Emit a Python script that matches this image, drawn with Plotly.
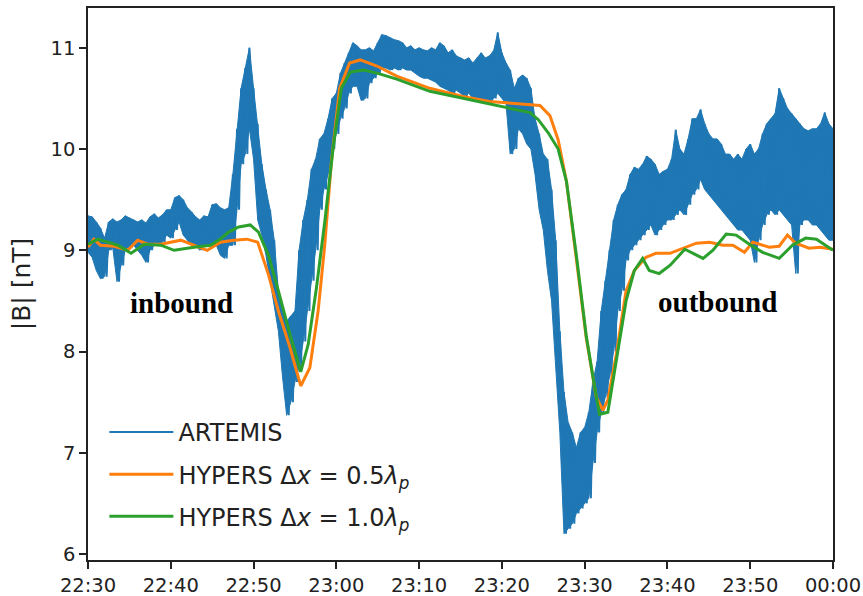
import plotly.graph_objects as go

# ---------------- data (minutes after 22:30) ----------------
TICK_MIN = [0, 10, 20, 30, 40, 50, 60, 70, 80, 90]
TICK_TEXT = ["22:30", "22:40", "22:50", "23:00", "23:10", "23:20", "23:30", "23:40", "23:50", "00:00"]

# ARTEMIS |B| : upper / lower envelope of the noisy signal, every 0.5 min
ART_T = [i * 0.5 for i in range(181)]
ART_HI = [
    9.34, 9.33, 9.28, 9.22, 9.12, 9.28, 9.31, 9.28, 9.30, 9.34,   # 0 - 4.5
    9.32, 9.30, 9.28, 9.30, 9.27, 9.33, 9.36, 9.32, 9.35, 9.40,   # 5 - 9.5
    9.40, 9.52, 9.54, 9.50, 9.42, 9.38, 9.33, 9.30, 9.34, 9.33,   # 10 - 14.5
    9.45, 9.46, 9.42, 9.40, 9.42, 9.75, 10.20, 10.60, 10.80, 11.00,  # 15 - 19.5
    10.60, 10.25, 9.85, 9.60, 9.40, 9.10, 8.60, 8.45, 8.30, 8.35,  # 20 - 24.5
    8.40, 9.00, 9.30, 9.50, 9.80, 9.90, 10.10, 10.15, 10.30, 10.50,  # 25 - 29.5
    10.55, 10.75, 10.85, 10.95, 11.05, 11.02, 10.98, 10.98, 11.00, 10.97,  # 30 - 34.5
    11.05, 11.13, 11.12, 11.10, 11.08, 11.07, 11.05, 11.00, 11.02, 10.98,  # 35 - 39.5
    11.00, 10.98, 10.97, 11.00, 10.98, 11.05, 11.02, 10.95, 10.98, 10.92,  # 40 - 44.5
    10.90, 10.88, 10.90, 10.85, 10.90, 10.95, 10.90, 10.92, 10.97, 11.15,  # 45 - 49.5
    10.95, 10.85, 10.78, 10.60, 10.70, 10.73, 10.70, 10.60, 10.30, 10.15,  # 50 - 54.5
    9.95, 9.90, 9.60, 9.10, 8.20, 7.60, 7.30, 7.20, 7.05, 7.20,   # 55 - 59.5
    7.25, 7.40, 7.70, 7.90, 8.40, 8.70, 9.00, 9.30, 9.45, 9.55,   # 60 - 64.5
    9.60, 9.75, 9.82, 9.80, 9.85, 9.93, 9.90, 9.85, 9.75, 9.78,   # 65 - 69.5
    9.80, 9.90, 10.19, 10.00, 9.95, 10.10, 10.30, 10.30, 10.39, 10.25,  # 70 - 74.5
    10.15, 10.10, 10.10, 10.05, 9.95, 9.95, 9.90, 9.95, 9.90, 10.00,  # 75 - 79.5
    10.05, 9.95, 10.00, 10.15, 10.25, 10.30, 10.35, 10.60, 10.50, 10.40,  # 80 - 84.5
    10.35, 10.30, 10.25, 10.20, 10.18, 10.20, 10.20, 10.25, 10.36, 10.25,  # 85 - 89.5
    10.20,
]
ART_LO = [
    8.98, 8.93, 8.80, 8.72, 8.74, 9.00, 9.02, 8.69, 8.85, 9.00,
    9.02, 9.05, 9.00, 8.95, 8.88, 9.00, 9.05, 9.05, 9.08, 9.15,
    9.12, 9.20, 9.28, 9.15, 9.10, 9.05, 9.05, 9.00, 9.05, 9.05,
    9.08, 9.05, 8.95, 8.92, 9.05, 9.05, 9.40, 9.85, 9.95, 10.20,
    9.90, 9.30, 9.15, 8.95, 8.70, 8.45, 8.20, 7.75, 7.37, 7.50,
    7.70, 7.85, 8.10, 8.40, 8.70, 9.00, 9.40, 9.60, 9.75, 10.00,
    10.15, 10.30, 10.40, 10.55, 10.62, 10.62, 10.48, 10.50, 10.65, 10.70,
    10.75, 10.80, 10.80, 10.78, 10.80, 10.78, 10.80, 10.78, 10.78, 10.75,
    10.72, 10.70, 10.70, 10.68, 10.66, 10.62, 10.60, 10.58, 10.55, 10.58,
    10.55, 10.52, 10.55, 10.50, 10.50, 10.50, 10.45, 10.45, 10.50, 10.55,
    10.50, 10.45, 9.95, 10.00, 10.20, 10.15, 10.05, 10.00, 9.75, 9.40,
    9.20, 8.80, 8.50, 7.90, 7.20, 6.20, 6.25, 6.30, 6.40, 6.45,
    6.50, 6.55, 6.90, 7.20, 7.40, 7.55, 7.75, 8.00, 8.40, 8.60,
    8.90, 9.00, 9.05, 9.10, 9.15, 9.20, 9.25, 9.15, 9.20, 9.25,
    9.30, 9.30, 9.35, 9.40, 9.35, 9.45, 9.55, 9.60, 9.70, 9.60,
    9.55, 9.50, 9.45, 9.40, 9.35, 9.30, 9.25, 9.20, 9.20, 9.15,
    9.10, 8.88, 9.10, 9.25, 9.35, 9.40, 9.35, 9.40, 9.35, 9.30,
    9.25, 8.77, 9.25, 9.30, 9.30, 9.25, 9.25, 9.20, 9.15, 9.10,
    9.10,
]

# HYPERS dx = 0.5 lambda_p
H05_T = [0, 0.7, 1.5, 3.2, 4.8, 6.0, 7.2, 8.8, 11.2, 12.8, 14.4, 16.0, 17.6, 19.2, 20.5,
         21.8, 23.0, 24.4, 25.7, 26.8, 27.8, 28.6, 29.4, 30.4, 31.6, 32.9, 34.9, 37.3,
         41.3, 45.3, 48.5, 54.6, 55.8, 56.8, 57.8, 59.0, 60.2, 61.4, 62.2, 62.8, 63.8,
         65.0, 66.0, 67.4, 68.6, 70.3, 71.9, 73.5, 75.1, 76.7, 77.9, 79.3, 80.3, 82.3,
         83.5, 84.5, 85.5, 87.1, 88.4, 90.0]
H05_B = [9.03, 9.11, 9.05, 9.04, 9.00, 9.10, 9.06, 9.06, 9.10, 9.05, 9.00, 9.08, 9.10, 9.11, 9.08,
         8.76, 8.40, 8.04, 7.66, 7.84, 8.40, 9.05, 9.87, 10.60, 10.85, 10.88, 10.82, 10.72,
         10.60, 10.52, 10.47, 10.43, 10.33, 10.09, 9.68, 8.91, 8.13, 7.55, 7.42, 7.52, 7.96,
         8.60, 8.80, 8.93, 8.97, 8.97, 9.02, 9.07, 9.08, 9.05, 9.05, 8.98, 9.08, 9.03,
         9.04, 9.15, 9.07, 9.02, 9.03, 9.01]

# HYPERS dx = 1.0 lambda_p
H10_T = [0, 1.2, 2.4, 3.6, 5.2, 6.8, 8.8, 10.4, 12.8, 14.8, 16.0, 17.0, 18.2, 19.6, 20.6,
         21.8, 23.0, 24.4, 25.7, 26.6, 27.6, 28.6, 29.6, 30.6, 31.7, 33.3, 34.9, 37.3,
         41.3, 45.3, 48.5, 53.4, 54.4, 55.6, 56.8, 57.8, 59.0, 60.2, 61.2, 61.8, 62.8,
         63.8, 65.0, 66.0, 67.0, 67.8, 69.0, 70.3, 72.1, 73.1, 74.3, 75.5, 77.1, 78.3,
         79.9, 81.5, 83.5, 85.1, 86.7, 88.0, 90.0]
H10_B = [9.06, 9.11, 9.08, 9.05, 8.97, 9.06, 9.05, 9.00, 9.03, 9.05, 9.11, 9.18, 9.23, 9.25, 9.18,
         8.95, 8.60, 8.17, 7.80, 8.07, 8.63, 9.28, 10.00, 10.60, 10.76, 10.78, 10.75, 10.69,
         10.57, 10.50, 10.44, 10.36, 10.29, 10.16, 10.00, 9.68, 8.95, 8.15, 7.65, 7.38, 7.40,
         7.89, 8.50, 8.80, 8.92, 8.80, 8.77, 8.85, 9.01, 8.97, 8.92, 9.00, 9.16, 9.15,
         9.06, 8.98, 8.92, 9.05, 9.12, 9.11, 9.00]

BLUE, ORANGE, GREEN = "#1f77b4", "#ff7f0e", "#2ca02c"

# ---------------- figure ----------------
fig = go.Figure()

# solid band of the noisy ARTEMIS signal
fig.add_trace(go.Scatter(x=ART_T, y=ART_LO, mode="lines", line=dict(color=BLUE, width=1),
                         showlegend=False, hoverinfo="skip"))
fig.add_trace(go.Scatter(x=ART_T, y=ART_HI, mode="lines", line=dict(color=BLUE, width=1),
                         fill="tonexty", fillcolor=BLUE, showlegend=False, hoverinfo="skip"))

# zig-zag between the envelopes (the legend entry)
zx, zy = [], []
for t, h, l in zip(ART_T, ART_HI, ART_LO):
    zx += [t, t + 0.25]
    zy += [h, l]
fig.add_trace(go.Scatter(x=zx, y=zy, mode="lines", name="ARTEMIS",
                         line=dict(color=BLUE, width=2), legendgroup="a"))

fig.add_trace(go.Scatter(x=H05_T, y=H05_B, mode="lines",
                         name="HYPERS Δ<i>x</i> = 0.5<i>λ</i><sub><i>p</i></sub>",
                         line=dict(color=ORANGE, width=3), legendgroup="b"))
fig.add_trace(go.Scatter(x=H10_T, y=H10_B, mode="lines",
                         name="HYPERS Δ<i>x</i> = 1.0<i>λ</i><sub><i>p</i></sub>",
                         line=dict(color=GREEN, width=3), legendgroup="c"))

axis_common = dict(showline=True, linecolor="#222", linewidth=1.6, mirror=True,
                   ticks="outside", ticklen=7, tickwidth=1.6, tickcolor="#222",
                   showgrid=False, zeroline=False, automargin=False,
                   tickfont=dict(family="DejaVu Sans", size=19.5, color="#222"))

fig.update_layout(
    width=863, height=596,
    margin=dict(l=88, r=30, t=8, b=36),
    paper_bgcolor="white", plot_bgcolor="white",
    xaxis=dict(range=[0, 90], tickmode="array", tickvals=TICK_MIN, ticktext=TICK_TEXT,
               **axis_common),
    yaxis=dict(range=[5.941, 11.393], tickmode="array", tickvals=[6, 7, 8, 9, 10, 11],
               title=dict(text="|B| [nT]", font=dict(family="DejaVu Sans", size=25, color="#222"),
                          standoff=13),
               **axis_common),
    legend=dict(x=0.022, y=0.272, xanchor="left", yanchor="top",
                bgcolor="rgba(0,0,0,0)", font=dict(family="DejaVu Sans", size=24, color="#222"),
                tracegroupgap=8, itemwidth=64),
    showlegend=True,
    annotations=[
        dict(x=11.3, y=8.475, xref="x", yref="y", text="<b>inbound</b>", showarrow=False,
             font=dict(family="Liberation Serif", size=29, color="black")),
        dict(x=76.1, y=8.485, xref="x", yref="y", text="<b>outbound</b>", showarrow=False,
             font=dict(family="Liberation Serif", size=29, color="black")),
    ],
)

fig.write_html("out.html")
